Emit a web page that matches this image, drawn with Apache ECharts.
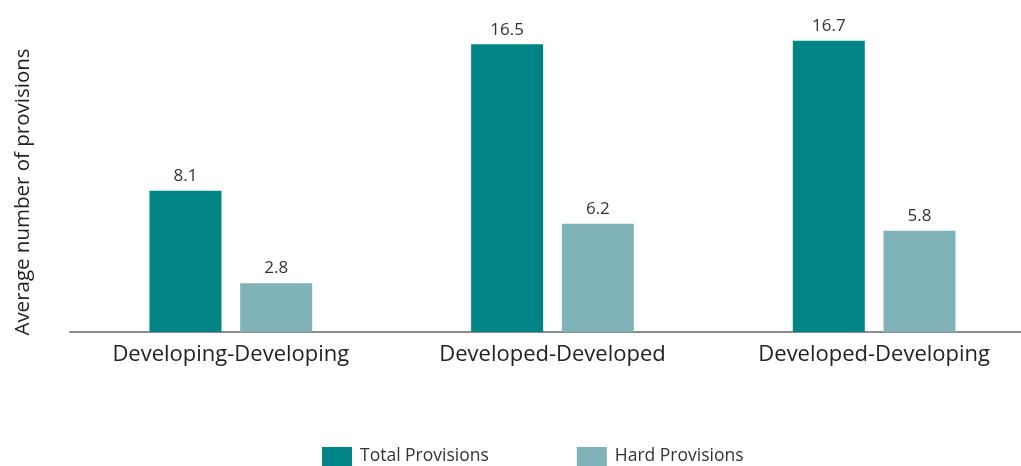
<!DOCTYPE html>
<html>
<head>
<meta charset="utf-8">
<style>
  html, body { margin: 0; padding: 0; background: #ffffff; }
  #chart { width: 1021px; height: 466px; }
</style>
<script src="https://cdn.jsdelivr.net/npm/echarts@6/dist/echarts.min.js"></script>
</head>
<body>
<div id="chart"></div>
<script>
// Average number of provisions by agreement pair type
const categories = ['Developing-Developing', 'Developed-Developed', 'Developed-Developing'];
const totalProvisions = [8.1, 16.5, 16.7];
const hardProvisions = [2.8, 6.2, 5.8];
const seriesNames = ['Total Provisions', 'Hard Provisions'];
const yAxisTitle = 'Average number of provisions';

const FONT = '"Open Sans", "Noto Sans", sans-serif';
const chart = echarts.init(document.getElementById('chart'), null, { renderer: 'canvas' });

const labelStyle = {
  show: true,
  position: 'top',
  distance: 6,
  color: '#333333',
  fontSize: 17,
  fontFamily: FONT,
  formatter: p => p.value.toFixed(1)
};

chart.setOption({
  animation: false,
  grid: { left: 70, width: 965, top: 18, bottom: 134, outerBoundsMode: 'none' },
  legend: {
    data: seriesNames,
    top: 447,
    left: 322,
    padding: 0,
    icon: 'rect',
    itemWidth: 30,
    itemHeight: 19,
    itemGap: 88,
    textStyle: { color: '#333333', fontSize: 17.5, fontFamily: FONT, padding: [0, 0, 0, 3] }
  },
  graphic: [{
    type: 'text',
    x: 23,
    y: 192,
    rotation: Math.PI / 2,
    style: {
      text: yAxisTitle,
      fill: '#222222',
      font: '20.5px ' + FONT,
      align: 'center',
      verticalAlign: 'middle'
    }
  }],
  xAxis: {
    type: 'category',
    data: categories,
    axisLine: { lineStyle: { color: '#8c8c8c', width: 2 } },
    axisTick: { show: false },
    axisLabel: { color: '#222222', fontSize: 22, fontFamily: FONT, margin: 12 }
  },
  yAxis: {
    type: 'value',
    min: 0,
    max: 18,
    axisLine: { show: false },
    axisTick: { show: false },
    axisLabel: { show: false },
    splitLine: { show: false }
  },
  series: [
    {
      name: seriesNames[0],
      type: 'bar',
      data: totalProvisions,
      barWidth: 72,
      barGap: '26%',
      itemStyle: { color: '#008486' },
      label: labelStyle
    },
    {
      name: seriesNames[1],
      type: 'bar',
      data: hardProvisions,
      barWidth: 72,
      itemStyle: { color: '#80b3b8' },
      label: labelStyle
    }
  ]
});
</script>
</body>
</html>
